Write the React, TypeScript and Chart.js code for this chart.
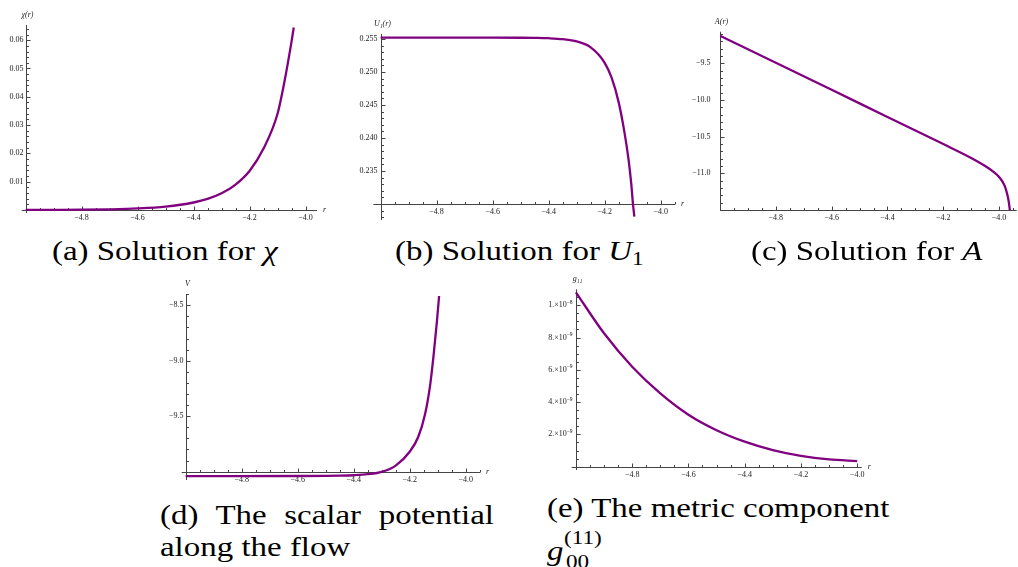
import React, { useEffect, useRef } from "react";
import { Chart, registerables } from "chart.js";
Chart.register(...registerables);

// ---------------- data ----------------
const rChi = [-5.0, -4.9, -4.8, -4.7, -4.6, -4.5, -4.4, -4.35, -4.3, -4.25, -4.2, -4.15, -4.1, -4.075, -4.05, -4.042];
const chiValues = [0.00002, 0.00005, 0.0001, 0.00024, 0.00054, 0.0012, 0.00265, 0.0039, 0.0059, 0.009, 0.0138, 0.0217, 0.034, 0.0455, 0.0595, 0.0645];

const rU1 = [-5.0, -4.6, -4.5, -4.45, -4.4, -4.35, -4.3, -4.25, -4.2, -4.175, -4.15, -4.13, -4.115, -4.105, -4.099, -4.094];
const u1Values = [0.2552, 0.2552, 0.25519, 0.25517, 0.25512, 0.25498, 0.25463, 0.25373, 0.2514, 0.2491, 0.2454, 0.241, 0.2368, 0.233, 0.23, 0.2281];

const rA = [-5.0, -4.8, -4.6, -4.4, -4.2, -4.1, -4.05, -4.02, -4.0, -3.98, -3.97, -3.965, -3.961];
const aValues = [-9.123, -9.49, -9.86, -10.23, -10.6, -10.79, -10.9, -10.98, -11.05, -11.17, -11.3, -11.4, -11.52];

const rV = [-5.0, -4.6, -4.5, -4.45, -4.4, -4.35, -4.3, -4.25, -4.2, -4.17, -4.145, -4.127, -4.114, -4.103, -4.095];
const vValues = [-10.04, -10.039, -10.038, -10.036, -10.032, -10.023, -10.002, -9.945, -9.82, -9.69, -9.48, -9.22, -8.934, -8.65, -8.417];

const rG = [-5.0, -4.9, -4.8, -4.7, -4.6, -4.5, -4.4, -4.3, -4.2, -4.1, -4.0];
const gValues = [10.8e-9, 8.26e-9, 6.19e-9, 4.54e-9, 3.22e-9, 2.26e-9, 1.55e-9, 1.03e-9, 0.67e-9, 0.45e-9, 0.35e-9];

const xTickValues = [-4.8, -4.6, -4.4, -4.2, -4.0];
const yTicksChi = [0.01, 0.02, 0.03, 0.04, 0.05, 0.06];
const yTicksU1 = [0.235, 0.24, 0.245, 0.25, 0.255];
const yTicksA = [-11.0, -10.5, -10.0, -9.5];
const yTicksV = [-9.5, -9.0, -8.5];
const yTicksG = [2e-9, 4e-9, 6e-9, 8e-9, 1e-8];
const yLabelsG = ["2.×10", "4.×10", "6.×10", "8.×10", "1.×10"];
const yExpG = ["−9", "−9", "−9", "−9", "−8"];

// ---------------- styling ----------------
const PURPLE = "rgb(128, 0, 128)";
const AXIS = "#444";
const TEXT = "#1a1a1a";
const SERIF = "'Liberation Serif', 'Times New Roman', serif";
const CAP_SIZE = 27;
const SX = 1.22;

type Spec = {
  id: string;
  box: [number, number, number, number];
  area: [number, number, number, number];
  xRange: [number, number];
  yRange: [number, number];
  axisX: number;
  axisY: number;
  xMinor: number;
  yMinor: number;
  yTicks: number[];
  yLabels: string[];
  yExp?: string[];
  yGap: number;
  yTitle: string;
  rTitle: boolean;
  r: number[];
  v: number[];
};

const fmt = (v: number, d: number) => v.toFixed(d).replace("-", "−");

const PANELS: Spec[] = [
  {
    id: "a", box: [0, 0, 340, 232], area: [21.7, 25, 317, 213],
    xRange: [-5.014, -3.959], yRange: [-0.00106, 0.06537], axisX: -5.0, axisY: 0,
    xMinor: 0.05, yMinor: 0.002, yTicks: yTicksChi, yLabels: yTicksChi.map((v) => fmt(v, 2)),
    yGap: 3, yTitle: "χ(r)", rTitle: true, r: rChi, v: chiValues,
  },
  {
    id: "b", box: [340, 0, 360, 232], area: [373.3, 34, 675, 220],
    xRange: [-5.026, -3.949], yRange: [0.22758, 0.25576], axisX: -5.0, axisY: 0.23,
    xMinor: 0.05, yMinor: 0.001, yTicks: yTicksU1, yLabels: yTicksU1.map((v) => fmt(v, 3)),
    yGap: 4, yTitle: "U₁(r)", rTitle: true, r: rU1, v: u1Values,
  },
  {
    id: "c", box: [680, 0, 338, 232], area: [720, 31.7, 1016.7, 210],
    xRange: [-5.0, -3.937], yRange: [-11.5, -9.0675], axisX: -5.0, axisY: -11.5,
    xMinor: 0.05, yMinor: 0.1, yTicks: yTicksA, yLabels: yTicksA.map((v) => fmt(v, 1)),
    yGap: 10, yTitle: "A(r)", rTitle: false, r: rA, v: aValues,
  },
  {
    id: "d", box: [140, 270, 370, 220], area: [181.7, 294, 480, 480],
    xRange: [-5.014, -3.949], yRange: [-10.075, -8.399], axisX: -5.0, axisY: -10.0,
    xMinor: 0.05, yMinor: 0.1, yTicks: yTicksV, yLabels: yTicksV.map((v) => fmt(v, 1)),
    yGap: 3, yTitle: "V", rTitle: true, r: rV, v: vValues,
  },
  {
    id: "e", box: [520, 270, 370, 210], area: [571.7, 289.3, 861.7, 470],
    xRange: [-5.015, -3.984], yRange: [-0.204e-9, 1.0985e-8], axisX: -5.0, axisY: 0,
    xMinor: 0.05, yMinor: 0.5e-9, yTicks: yTicksG, yLabels: yLabelsG, yExp: yExpG,
    yGap: 4, yTitle: "g₁₁", rTitle: true, r: rG, v: gValues,
  },
];

function makeAxesPlugin(s: Spec) {
  return {
    id: "mathAxes_" + s.id,
    beforeDatasetsDraw(chart: any) {
      const ctx: CanvasRenderingContext2D = chart.ctx;
      const xs = chart.scales.x;
      const ys = chart.scales.y;
      const ca = chart.chartArea;
      const px = (v: number) => xs.getPixelForValue(v);
      const py = (v: number) => ys.getPixelForValue(v);
      const x0 = Math.round(px(s.axisX)) + 0.5;
      const y0 = Math.round(py(s.axisY)) + 0.5;
      ctx.save();
      ctx.strokeStyle = AXIS;
      ctx.lineWidth = 1;
      ctx.beginPath();
      ctx.moveTo(ca.left, y0);
      ctx.lineTo(ca.right, y0);
      ctx.moveTo(x0, ca.top);
      ctx.lineTo(x0, ca.bottom);
      const [xa, xb] = s.xRange;
      for (let k = Math.ceil(xa / s.xMinor - 1e-6); k * s.xMinor <= xb + 1e-9; k++) {
        const v = k * s.xMinor;
        if (Math.abs(v - s.axisX) < 1e-9) continue;
        const major = xTickValues.some((t) => Math.abs(t - v) < 1e-6);
        const p = Math.round(px(v)) + 0.5;
        ctx.moveTo(p, y0);
        ctx.lineTo(p, y0 - (major ? 4 : 2.5));
      }
      const [ya, yb] = s.yRange;
      const eps = s.yMinor * 1e-4;
      for (let k = Math.ceil(ya / s.yMinor - 1e-6); k * s.yMinor <= yb + eps; k++) {
        const v = k * s.yMinor;
        if (Math.abs(v - s.axisY) < eps) continue;
        const major = s.yTicks.some((t) => Math.abs(t - v) < eps);
        const p = Math.round(py(v)) + 0.5;
        ctx.moveTo(x0, p);
        ctx.lineTo(x0 + (major ? 4 : 2.5), p);
      }
      ctx.stroke();

      ctx.fillStyle = TEXT;
      ctx.font = `8px ${SERIF}`;
      ctx.textAlign = "center";
      ctx.textBaseline = "top";
      xTickValues.forEach((v) => ctx.fillText(fmt(v, 1), px(v), y0 + 3));

      ctx.textBaseline = "middle";
      s.yTicks.forEach((v, i) => {
        const base = s.yLabels[i];
        const y = py(v);
        if (s.yExp) {
          ctx.font = `8px ${SERIF}`;
          const bw = ctx.measureText(base).width;
          ctx.font = `5.5px ${SERIF}`;
          const ew = ctx.measureText(s.yExp[i]).width;
          const start = x0 - s.yGap - bw - ew;
          ctx.textAlign = "left";
          ctx.font = `8px ${SERIF}`;
          ctx.fillText(base, start, y);
          ctx.font = `5.5px ${SERIF}`;
          ctx.fillText(s.yExp[i], start + bw, y - 3);
        } else {
          ctx.textAlign = "right";
          ctx.font = `8px ${SERIF}`;
          ctx.fillText(base, x0 - s.yGap, y);
        }
      });

      ctx.font = `italic 8px ${SERIF}`;
      ctx.textAlign = "center";
      ctx.fillText(s.yTitle, x0 + 1, ca.top - 10);
      if (s.rTitle) {
        ctx.textAlign = "left";
        ctx.fillText("r", ca.right + 6, y0 - 1);
      }
      ctx.restore();
    },
  };
}

function Panel({ s }: { s: Spec }) {
  const ref = useRef<HTMLCanvasElement>(null);
  const [bx, by, bw, bh] = s.box;
  useEffect(() => {
    const [l, t, r, b] = s.area;
    const chart = new Chart(ref.current as HTMLCanvasElement, {
      type: "line",
      data: {
        datasets: [
          {
            data: s.r.map((x, i) => ({ x, y: s.v[i] })),
            borderColor: PURPLE,
            borderWidth: 2.3,
            pointRadius: 0,
            cubicInterpolationMode: "monotone",
            fill: false,
            clip: 0,
          } as any,
        ],
      },
      options: {
        animation: false,
        responsive: false,
        maintainAspectRatio: false,
        events: [],
        layout: { padding: { left: l - bx, top: t - by, right: bx + bw - r, bottom: by + bh - b } },
        scales: {
          x: { type: "linear", min: s.xRange[0], max: s.xRange[1], display: false },
          y: { type: "linear", min: s.yRange[0], max: s.yRange[1], display: false },
        },
        plugins: { legend: { display: false }, tooltip: { enabled: false } },
      },
      plugins: [makeAxesPlugin(s)],
    });
    return () => chart.destroy();
  }, []);
  return (
    <canvas
      ref={ref}
      width={bw}
      height={bh}
      style={{ position: "absolute", left: bx, top: by, width: bw, height: bh }}
    />
  );
}

function Cap(props: { left: number; baseline: number; width?: number; size?: number; children: React.ReactNode }) {
  const size = props.size ?? CAP_SIZE;
  const style: React.CSSProperties = {
    position: "absolute",
    left: props.left,
    top: props.baseline - 0.8375 * size,
    fontFamily: SERIF,
    fontSize: size,
    lineHeight: `${size}px`,
    whiteSpace: "nowrap",
    transform: `scaleX(${SX})`,
    transformOrigin: "0 0",
    color: "#000",
  };
  if (props.width) {
    style.width = props.width / SX;
    style.whiteSpace = "normal";
    style.textAlign = "justify";
    (style as any).textAlignLast = "justify";
  }
  return <div style={style}>{props.children}</div>;
}

const sub: React.CSSProperties = { fontSize: "0.7em", position: "relative", top: "0.25em" };

export default function App() {
  return (
    <div style={{ position: "absolute", left: 0, top: 0, width: 1018, height: 567, background: "#fff", overflow: "hidden" }}>
      {PANELS.map((s) => (
        <Panel key={s.id} s={s} />
      ))}
      <Cap left={52} baseline={261}>
        (a) Solution for <i>χ</i>
      </Cap>
      <Cap left={395} baseline={261}>
        (b) Solution for <i>U</i>
        <span style={sub}>1</span>
      </Cap>
      <Cap left={751} baseline={261}>
        (c) Solution for <i>A</i>
      </Cap>
      <Cap left={160} baseline={525} width={334}>
        (d) The scalar potential
      </Cap>
      <Cap left={160} baseline={557}>
        along the flow
      </Cap>
      <Cap left={547} baseline={518}>
        (e) The metric component
      </Cap>
      <Cap left={547} baseline={561}>
        <i>g</i>
      </Cap>
      <Cap left={564} baseline={544} size={19}>
        (11)
      </Cap>
      <Cap left={566} baseline={568} size={19}>
        00
      </Cap>
    </div>
  );
}
